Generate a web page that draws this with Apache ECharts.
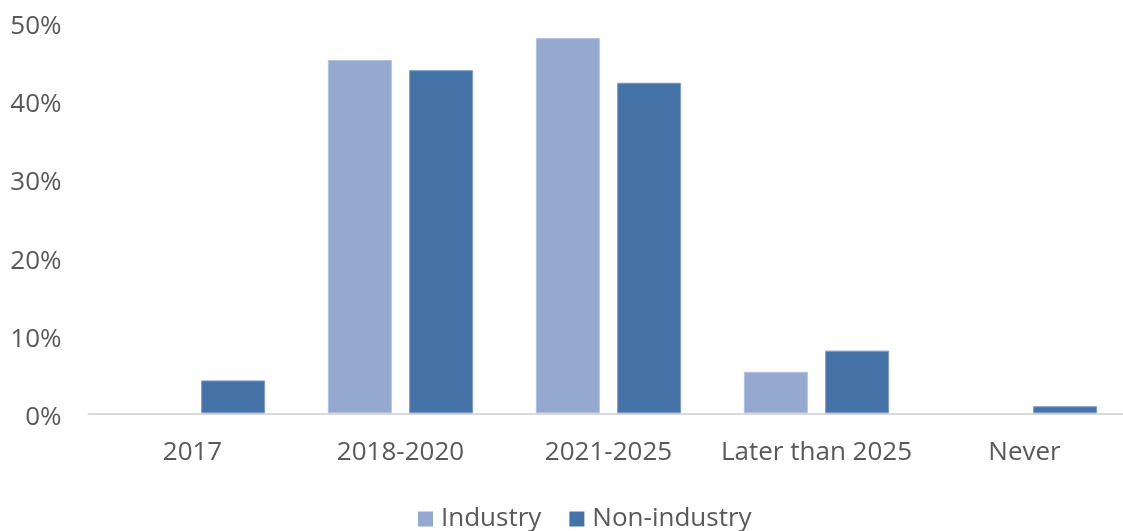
<!DOCTYPE html>
<html>
<head>
<meta charset="utf-8">
<script src="https://cdn.jsdelivr.net/npm/echarts@6/dist/echarts.min.js"></script>
<style>
  html, body { margin: 0; padding: 0; background: #fff; }
  #chart { width: 1123px; height: 531px; }
</style>
</head>
<body>
<div id="chart"></div>
<script>
// Expected timing, share of respondents (%)
const categories = ['2017', '2018-2020', '2021-2025', 'Later than 2025', 'Never'];
const industry = [0, 45.1, 47.9, 5.3, 0];
const nonIndustry = [4.2, 43.8, 42.2, 8.0, 0.9];
const seriesNames = ['Industry', 'Non-industry'];
const yTicks = [0, 10, 20, 30, 40, 50];

const textColor = '#595959';
const fontFamily = '"Open Sans", "Noto Sans", sans-serif';

// zero-height bars get no outline so nothing shows on the baseline
function barItems(values, border) {
  return values.map(v => ({
    value: v,
    itemStyle: { borderWidth: v > 0 ? 1 : 0, borderColor: border }
  }));
}

const chart = echarts.init(document.getElementById('chart'));
chart.setOption({
  animation: false,
  textStyle: { fontFamily: fontFamily },
  legend: {
    data: seriesNames,
    bottom: -1,
    left: 418,
    padding: 0,
    itemWidth: 15,
    itemHeight: 15,
    itemGap: 28,
    icon: 'rect',
    textStyle: { color: textColor, fontSize: 26, fontFamily: fontFamily, padding: [0, 0, 0, 3] }
  },
  grid: {
    left: 88.5, right: -5.5, top: 21.6, bottom: 117.7,
    containLabel: false, outerBoundsMode: 'none'
  },
  xAxis: {
    type: 'category',
    data: categories,
    axisLine: { show: true, lineStyle: { color: '#d9d9d9', width: 2 } },
    axisTick: { show: false },
    axisLabel: { color: textColor, fontSize: 26, margin: 26, interval: 0, fontFamily: fontFamily }
  },
  yAxis: {
    type: 'value',
    min: yTicks[0],
    max: yTicks[yTicks.length - 1],
    interval: 10,
    axisLine: { show: false },
    axisTick: { show: false },
    splitLine: { show: false },
    axisLabel: {
      color: textColor, fontSize: 26, margin: 27, fontFamily: fontFamily,
      formatter: v => '{t|' + v + '%}',
      rich: { t: { fontSize: 26, color: textColor, fontFamily: fontFamily, padding: [9, 0, 0, 0] } }
    }
  },
  series: [
    {
      name: seriesNames[0],
      type: 'bar',
      data: barItems(industry, '#b4c3e0'),
      barWidth: 64,
      barGap: '27%',
      itemStyle: { color: '#95a9d0' }
    },
    {
      name: seriesNames[1],
      type: 'bar',
      data: barItems(nonIndustry, '#7d9cc6'),
      barWidth: 64,
      itemStyle: { color: '#4573a7' }
    }
  ]
});
</script>
</body>
</html>
